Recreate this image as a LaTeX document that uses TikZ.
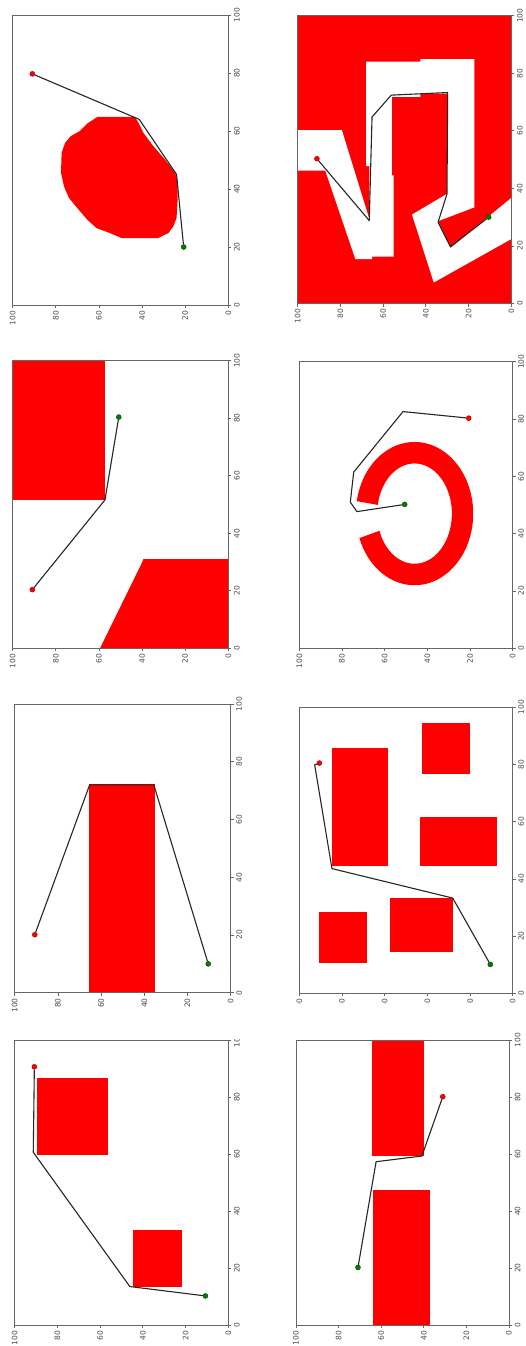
\documentclass[tikz,border=0pt]{standalone}
\usepackage{fontspec}
\setmainfont{DejaVu Sans}
\tikzset{
  frm/.style={draw=black!60, line width=0.75pt},
  tl/.style={font=\fontsize{7.5}{9}\selectfont, text=black!70, inner sep=0pt, rotate=90},
  obst/.style={fill=red},
  freecell/.style={fill=white},
  route/.style={draw=black!85, line width=1.1pt, line join=round},
  startpt/.style={circle, fill=green!50!black, draw=green!25!black, line width=0.4pt, inner sep=0pt, minimum size=5pt},
  goalpt/.style={circle, fill=red, draw=red!60!black, line width=0.4pt, inner sep=0pt, minimum size=5pt},
  panelA/.style={shift={(228.3pt,-305pt)}, x={(0pt,2.9pt)}, y={(-2.156pt,0pt)}},
  panelB/.style={shift={(511.3pt,-303.5pt)}, x={(0pt,2.878pt)}, y={(-2.136pt,0pt)}},
  panelC/.style={shift={(228.3pt,-648.3pt)}, x={(0pt,2.876pt)}, y={(-2.156pt,0pt)}},
  panelD/.style={shift={(512.7pt,-648.3pt)}, x={(0pt,2.866pt)}, y={(-2.134pt,0pt)}},
  panelE/.style={shift={(230.7pt,-992.7pt)}, x={(0pt,2.887pt)}, y={(-2.16pt,0pt)}},
  panelF/.style={shift={(512.7pt,-993.3pt)}, x={(0pt,2.86pt)}, y={(-2.134pt,0pt)}},
  panelG/.style={shift={(228.3pt,-1325pt)}, x={(0pt,2.85pt)}, y={(-2.136pt,0pt)}},
  panelH/.style={shift={(509pt,-1325pt)}, x={(0pt,2.85pt)}, y={(-2.13pt,0pt)}},
}
\newcommand\plotaxes[1]{%
  \draw[frm] (0,0) rectangle (100,100);
  \foreach \t in {0,20,40,60,80,100}{%
    \draw[frm] (\t,0) -- ++(3pt,0pt);
    \path (\t,0) ++(5.5pt,0pt) node[tl, anchor=north] (#1x\t) {\t};
    \draw[frm] (0,\t) -- ++(0pt,-3pt);
    \path (0,\t) ++(0pt,-5.5pt) node[tl, anchor=east] (#1y\t) {\t};
  }%
}
\begin{document}
\begin{tikzpicture}
\useasboundingbox (0pt,0pt) rectangle (525pt,-1346pt);
\fill[white] (0pt,0pt) rectangle (525pt,-1346pt);

% ---------------- Panel A (blob)
\begin{scope}[panelA]
  \fill[obst] (64.9,43.3) -- (64.9,60.6) -- (62.6,65.4) -- (60,68.8) -- (58.2,73.1) -- (55.9,75.7) -- (52.5,77.3) -- (45.6,77.6) -- (40.9,76.2) -- (36.9,73.9) -- (33.4,70) -- (29.4,65.4) -- (26.5,61.1) -- (24.8,54.9) -- (23.1,49.5) -- (23.1,32.5) -- (24.8,27.8) -- (27.1,25.5) -- (30,24) -- (36.3,23.5) -- (42.7,23.5) -- (45.6,24.7) -- (50.2,29.4) -- (54.8,34.8) -- (59.4,39.4) -- (62.9,41.7) -- cycle;
  \plotaxes{A}
  \node[startpt] (sA) at (20,20.7) {};
  \node[goalpt] (gA) at (79.7,90.9) {};
  \coordinate (a1) at (45,24);
  \coordinate (a2) at (64,41.3);
  \draw[route] (sA) -- (a1) -- (a2) -- (gA);
\end{scope}

% ---------------- Panel B (maze)
\begin{scope}[panelB]
  \fill[obst] (0,0) rectangle (100,100);
  \fill[freecell] (60.2,100) -- (60.2,79.3) -- (29.4,66.5) -- (47.7,66.5) -- (47.7,68.0) -- (84.0,68.0) -- (84.0,42.6) -- (84.9,42.6) -- (84.9,17.3) -- (33.4,17.3) -- (28.6,34.3) -- (19.3,28.5) -- (36.7,0) -- (22.4,0) -- (7.3,36.3) -- (30.9,46.5) -- (38.1,30.1) -- (72.9,30.1) -- (72.9,42.6) -- (71.8,42.6) -- (71.8,55.9) -- (44.5,55.9) -- (44.5,55.1) -- (16.3,55.1) -- (16.3,65.2) -- (15.4,65.2) -- (15.4,73.0) -- (46.2,87.1) -- (46.2,100) -- cycle;
  \plotaxes{B}
  \node[startpt] (sB) at (30,10.6) {};
  \node[goalpt] (gB) at (50.3,91) {};
  \coordinate (b1) at (19.7,28.5);
  \coordinate (b2) at (28.2,34.3);
  \coordinate (b3) at (38.1,30.1);
  \coordinate (b4) at (73.3,29.8);
  \coordinate (b5) at (72.4,56.2);
  \coordinate (b6) at (64.8,65.2);
  \coordinate (b7) at (28.8,66.5);
  \draw[route] (sB) -- (b1) -- (b2) -- (b3) -- (b4) -- (b5) -- (b6) -- (b7) -- (gB);
\end{scope}

% ---------------- Panel C
\begin{scope}[panelC]
  \fill[obst] (51.6,57.2) rectangle (100,100);
  \fill[obst] (0,0) -- (0,59.5) -- (29.5,40.2) -- (31,39.4) -- (31,0) -- cycle;
  \plotaxes{C}
  \node[startpt] (sC) at (80.4,50.8) {};
  \node[goalpt] (gC) at (20.4,90.9) {};
  \coordinate (c1) at (51.6,57.2);
  \draw[route] (sC) -- (c1) -- (gC);
\end{scope}

% ---------------- Panel D (ring)
\begin{scope}[panelD]
  \fill[obst] plot[domain=-250:80, samples=90] ({47+25*cos(\x)},{46+27.5*sin(\x)}) -- plot[domain=80:-250, samples=90] ({47+17.5*cos(\x)},{46+17.5*sin(\x)}) -- cycle;
  \plotaxes{D}
  \node[startpt] (sD) at (50.2,50.6) {};
  \node[goalpt] (gD) at (80.3,20.6) {};
  \coordinate (d1) at (47.7,73);
  \coordinate (d2) at (51,76.1);
  \coordinate (d3) at (61.5,74.5);
  \coordinate (d4) at (82.6,51.4);
  \draw[route] (sD) -- (d1) -- (d2) -- (d3) -- (d4) -- (gD);
\end{scope}

% ---------------- Panel E
\begin{scope}[panelE]
  \fill[obst] (0,35.1) rectangle (72.3,65.8);
  \plotaxes{E}
  \node[startpt] (sE) at (10,10.4) {};
  \node[goalpt] (gE) at (20.1,90.7) {};
  \coordinate (e1) at (72,35.6);
  \coordinate (e2) at (72,65.3);
  \draw[route] (sE) -- (e1) -- (e2) -- (gE);
\end{scope}

% ---------------- Panel F
\begin{scope}
\clip (280pt,-690pt) rectangle (525pt,-1003pt);
\begin{scope}[panelF]
  \fill[obst] (10.5,68.3) rectangle (28.4,90.6);
  \fill[obst] (14.4,28.1) rectangle (33.3,57.3);
  \fill[obst] (44.6,58.4) rectangle (85.6,84.7);
  \fill[obst] (44.6,7.2) rectangle (61.8,43.6);
  \fill[obst] (76.6,20.2) rectangle (94.5,42.5);
  \plotaxes{F}
  \node[startpt] (sF) at (10.1,10.5) {};
  \node[goalpt] (gF) at (80.5,90.6) {};
  \coordinate (f1) at (33.3,28.1);
  \coordinate (f2) at (43.6,84.7);
  \coordinate (f3) at (79.9,92.8);
  \draw[route] (sF) -- (f1) -- (f2) -- (f3) -- (gF);
\end{scope}
\end{scope}

% ---------------- Panel G
\begin{scope}
\clip (0pt,-1039pt) rectangle (280pt,-1346pt);
\begin{scope}[panelG]
  \fill[obst] (59.6,56.2) rectangle (86.8,89.7);
  \fill[obst] (13.2,21.5) rectangle (33.4,44.5);
  \plotaxes{G}
  \node[startpt] (sG) at (10.2,10.7) {};
  \node[goalpt] (gG) at (90.6,90.8) {};
  \coordinate (g1) at (13.5,46.1);
  \coordinate (g2) at (60.6,91.3);
  \draw[route] (sG) -- (g1) -- (g2) -- (gG);
\end{scope}
\end{scope}

% ---------------- Panel H
\begin{scope}[panelH]
  \fill[obst] (59.4,40.1) rectangle (100,64.5);
  \fill[obst] (0,37.3) rectangle (47.4,63.8);
  \plotaxes{H}
  \node[startpt] (sH) at (20.2,70.9) {};
  \node[goalpt] (gH) at (80.1,31.1) {};
  \coordinate (h1) at (57.3,62.4);
  \coordinate (h2) at (59.3,40.9);
  \draw[route] (sH) -- (h1) -- (h2) -- (gH);
\end{scope}
\end{tikzpicture}
\end{document}
